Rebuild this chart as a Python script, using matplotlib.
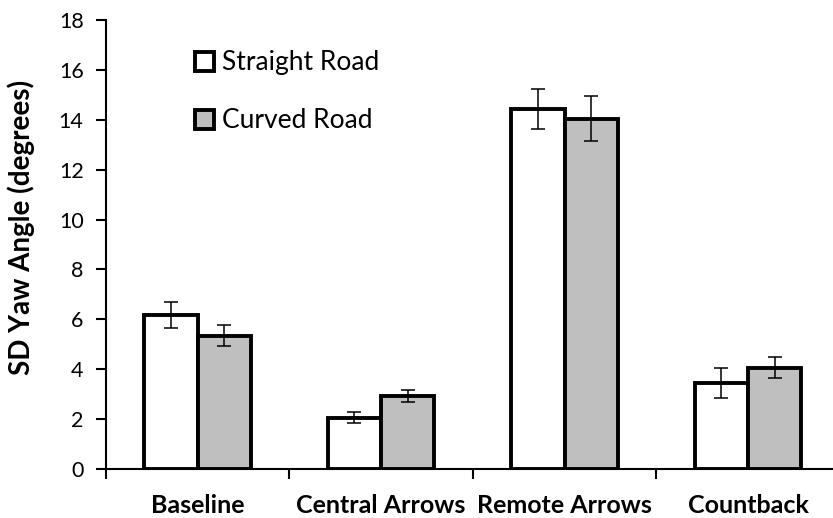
import matplotlib.pyplot as plt
import numpy as np

plt.rcParams['font.family'] = ['Lato', 'DejaVu Sans']

conditions = ["Baseline", "Central Arrows", "Remote Arrows", "Countback"]
straight = [6.17, 2.06, 14.45, 3.44]
straight_err = [0.53, 0.23, 0.80, 0.60]
curved = [5.35, 2.92, 14.05, 4.06]
curved_err = [0.43, 0.24, 0.90, 0.42]

fig = plt.figure(figsize=(8.33, 5.18), dpi=100)
ax = fig.add_axes([0.127, 0.0946, 0.8812, 0.8668])

x = np.arange(len(conditions))
w = 0.29
bar_kw = dict(edgecolor="black", linewidth=2.8, capsize=4.7,
              error_kw=dict(elinewidth=1.1, capthick=1.1, ecolor="black"))
ax.bar(x - w / 2, straight, w, yerr=straight_err, color="white",
       label="Straight Road", **bar_kw)
ax.bar(x + w / 2, curved, w, yerr=curved_err, color="#bfbfbf",
       label="Curved Road", **bar_kw)

ax.set_xlim(-0.5, 3.5)
ax.set_ylim(0, 18)
ax.set_yticks(range(0, 19, 2))
ax.set_xticks(x)
ax.set_xticklabels(conditions, fontsize=18, fontweight="bold")
ax.set_xticks(np.arange(-0.5, 4, 1), minor=True)
ax.tick_params(axis="x", which="major", length=0, pad=18)
ax.tick_params(axis="x", which="minor", length=7, width=1.5, direction="out")
ax.tick_params(axis="y", length=7, width=1.5, labelsize=15.5, pad=9)
ax.set_ylabel("SD Yaw Angle (degrees)", fontsize=20, fontweight="bold")
ax.yaxis.set_label_coords(-0.097, 0.539)

for side in ["top", "right"]:
    ax.spines[side].set_visible(False)
for side in ["left", "bottom"]:
    ax.spines[side].set_linewidth(1.5)

ax.legend(loc="upper left", bbox_to_anchor=(0.089, 0.985), frameon=False,
          fontsize=19, handlelength=0.72, handleheight=0.72, handletextpad=0.3,
          labelspacing=1.25)

fig.savefig("out.png", dpi=100)
